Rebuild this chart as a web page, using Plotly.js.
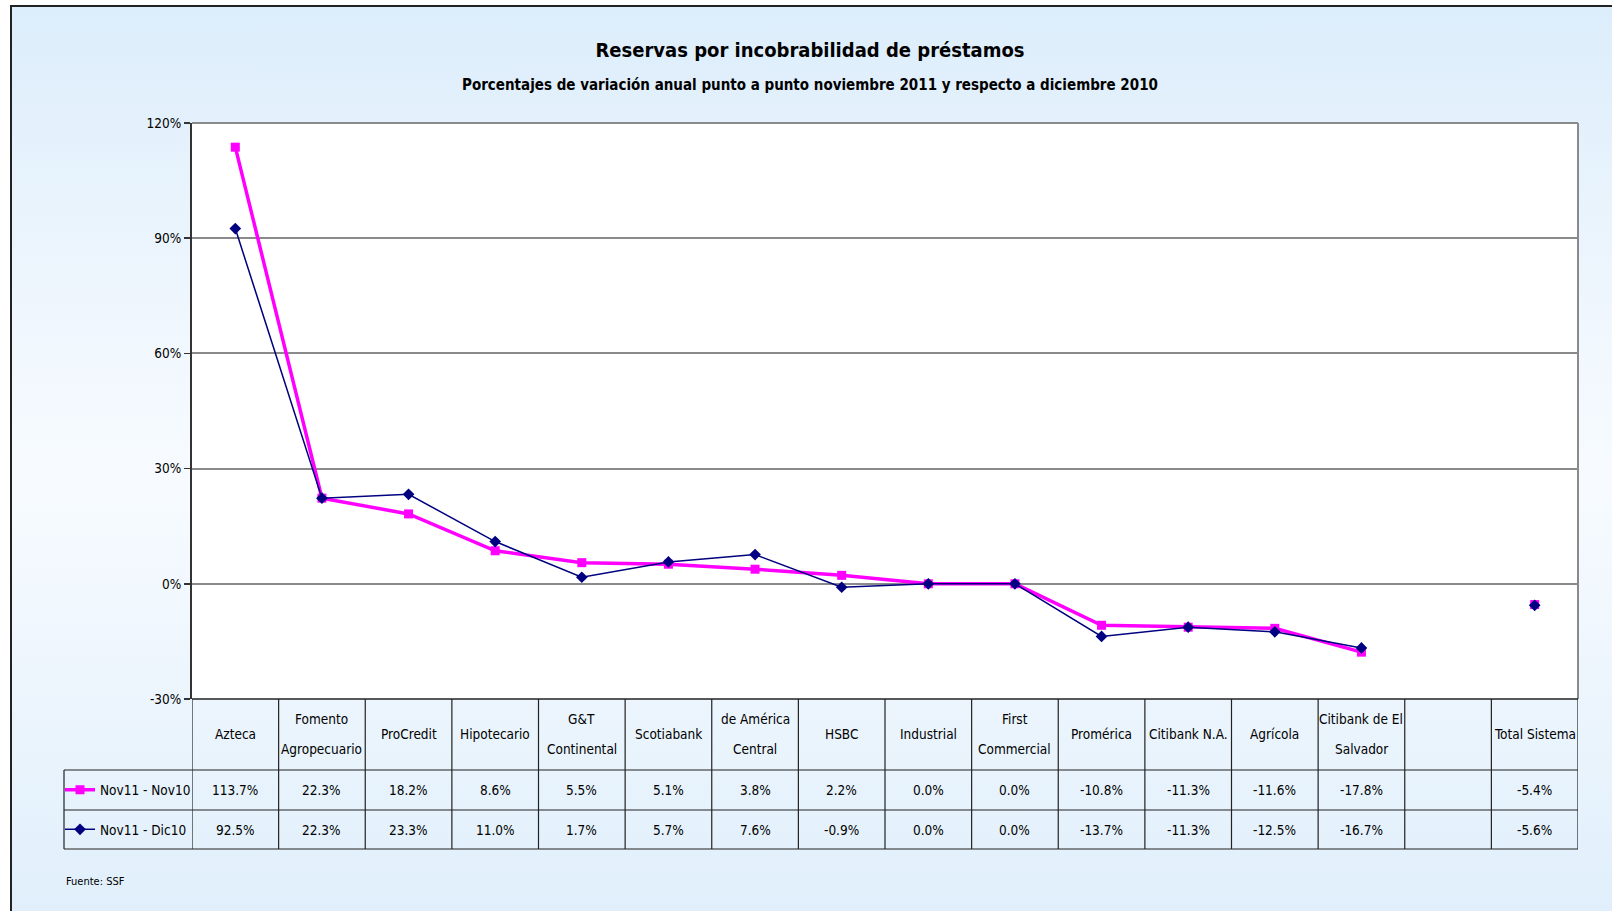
<!DOCTYPE html>
<html>
<head>
<meta charset="utf-8">
<script src="https://cdn.plot.ly/plotly-3.0.1.min.js"></script>
<style>
  html, body { margin: 0; padding: 0; background: #ffffff; overflow: hidden; }
  #frame {
    position: absolute; left: 10px; top: 5px; width: 1640px; height: 940px;
    border-left: 2px solid #222; border-top: 2px solid #222;
    background: linear-gradient(to bottom, #dcedfb 0%, #eef6fd 30%, #f7fbff 50%, #eef6fd 70%, #deeefb 100%);
  }
  #chart { position: absolute; left: 0; top: 0; width: 1612px; height: 911px; }
</style>
</head>
<body>
<div id="frame"></div>
<div id="chart"></div>
<script>
// ---- data ----
const categories = [
  'Azteca', 'Fomento\nAgropecuario', 'ProCredit', 'Hipotecario', 'G&T\nContinental',
  'Scotiabank', 'de América\nCentral', 'HSBC', 'Industrial', 'First\nCommercial',
  'Promérica', 'Citibank N.A.', 'Agrícola', 'Citibank de El\nSalvador', '', 'Total Sistema'
];
const seriesNames = ['Nov11 - Nov10', 'Nov11 - Dic10'];
const nov11Nov10 = [113.7, 22.3, 18.2, 8.6, 5.5, 5.1, 3.8, 2.2, 0.0, 0.0, -10.8, -11.3, -11.6, -17.8, null, -5.4];
const nov11Dic10 = [92.5, 22.3, 23.3, 11.0, 1.7, 5.7, 7.6, -0.9, 0.0, 0.0, -13.7, -11.3, -12.5, -16.7, null, -5.6];
const yTickVals = [-30, 0, 30, 60, 90, 120];
const yTickText = ['-30%', '0%', '30%', '60%', '90%', '120%'];
const titleText = 'Reservas por incobrabilidad de préstamos';
const subtitleText = 'Porcentajes de variación anual punto a punto noviembre 2011 y respecto a diciembre 2010';
const sourceText = 'Fuente: SSF';

// ---- layout constants (pixels) ----
const W = 1612, H = 911;
const L = 192, R = 34, T = 123, B = 212;
const plotW = W - L - R, plotH = H - T - B;
const FONT = '"Liberation Sans Narrow", "Arial Narrow", "DejaVu Sans Condensed", sans-serif';
const tableTop = 699, row1Top = 770, row2Top = 810, tableBottom = 849, legendLeft = 64;
const py = px => (H - B - px) / plotH;       // pixel y -> paper y
const pxX = px => (px - L) / plotW;          // pixel x -> paper x
const esc = s => s.replace(/&/g, '&amp;');
const fmt = v => (v === null ? '' : v.toFixed(1) + '%');

const idx = categories.map((_, i) => i);
const n = categories.length;

const traces = [
  {
    x: idx, y: nov11Nov10, name: seriesNames[0], type: 'scatter', mode: 'lines+markers',
    line: { color: '#FF00FF', width: 3.5 },
    marker: { symbol: 'square', size: 9, color: '#FF00FF' },
    connectgaps: false, legend: 'legend', hoverinfo: 'x+y'
  },
  {
    x: idx, y: nov11Dic10, name: seriesNames[1], type: 'scatter', mode: 'lines+markers',
    line: { color: '#000080', width: 1.5 },
    marker: { symbol: 'diamond', size: 9, color: '#000080' },
    connectgaps: false, legend: 'legend2', hoverinfo: 'x+y'
  }
];

const shapes = [];
const lineCol = '#222222';
shapes.push({ type: 'line', xref: 'paper', yref: 'paper', x0: 0, x1: 1, y0: 1, y1: 1, line: { color: '#8a8a8a', width: 2 } });
shapes.push({ type: 'line', xref: 'paper', yref: 'paper', x0: 1, x1: 1, y0: 0, y1: 1, line: { color: '#8a8a8a', width: 2 } });
shapes.push({ type: 'line', xref: 'paper', yref: 'paper', x0: 0, x1: 1, y0: py(tableTop), y1: py(tableTop), line: { color: lineCol, width: 1.5 } });
[row1Top, row2Top, tableBottom].forEach(yy => {
  shapes.push({ type: 'line', xref: 'paper', yref: 'paper', x0: pxX(legendLeft), x1: 1, y0: py(yy), y1: py(yy), line: { color: lineCol, width: 1.2 } });
});
shapes.push({ type: 'line', xref: 'paper', yref: 'paper', x0: pxX(legendLeft), x1: pxX(legendLeft), y0: py(row1Top), y1: py(tableBottom), line: { color: lineCol, width: 1.2 } });
for (let k = 0; k <= n; k++) {
  shapes.push({ type: 'line', xref: 'x', yref: 'paper', x0: k - 0.5, x1: k - 0.5, y0: py(tableTop), y1: py(tableBottom), line: { color: lineCol, width: 1.2 } });
}

const annotations = [];
const cellFont = { family: FONT, size: 13.5, color: '#000' };
categories.forEach((c, i) => {
  const parts = c.split('\n').filter(s => s.length);
  const center = (tableTop + row1Top) / 2 - 1;
  const spacing = 30;
  parts.forEach((p, j) => {
    const yy = center + (j - (parts.length - 1) / 2) * spacing;
    annotations.push({ x: i, y: py(yy), xref: 'x', yref: 'paper', text: esc(p), showarrow: false, font: cellFont, xanchor: 'center', yanchor: 'middle' });
  });
});
[nov11Nov10, nov11Dic10].forEach((arr, r) => {
  const center = r === 0 ? (row1Top + row2Top) / 2 : (row2Top + tableBottom) / 2;
  arr.forEach((v, i) => {
    if (v === null) return;
    annotations.push({ x: i, y: py(center), xref: 'x', yref: 'paper', text: fmt(v), showarrow: false, font: cellFont, xanchor: 'center', yanchor: 'middle' });
  });
});
annotations.push({ x: pxX(810), y: py(85), xref: 'paper', yref: 'paper', text: '<b>' + subtitleText + '</b>', showarrow: false,
  font: { family: FONT, size: 15, color: '#000' }, xanchor: 'center', yanchor: 'middle' });
annotations.push({ x: pxX(64), y: py(881), xref: 'paper', yref: 'paper', text: sourceText, showarrow: false,
  font: { family: FONT, size: 11, color: '#000' }, xanchor: 'left', yanchor: 'middle' });

const layout = {
  width: W, height: H,
  margin: { l: L, r: R, t: T, b: B },
  paper_bgcolor: 'rgba(0,0,0,0)',
  plot_bgcolor: '#ffffff',
  font: { family: FONT, size: 13.5, color: '#000' },
  title: {
    text: '<b>' + titleText + '</b>',
    font: { family: FONT, size: 20, color: '#000' },
    x: 810 / W, xref: 'container', xanchor: 'center',
    y: 1 - 50 / H, yref: 'container', yanchor: 'middle'
  },
  xaxis: {
    range: [-0.5, n - 0.5], showticklabels: false, showgrid: false, zeroline: false,
    showline: false, ticks: '', fixedrange: true
  },
  yaxis: {
    range: [-30, 120], tickmode: 'array', tickvals: yTickVals, ticktext: yTickText,
    showgrid: true, gridcolor: '#8a8a8a', gridwidth: 2, zeroline: false,
    showline: true, linecolor: '#333', linewidth: 2,
    ticks: 'outside', ticklen: 6, tickcolor: '#333', tickwidth: 1.5,
    tickfont: { family: FONT, size: 13.5, color: '#000' }, fixedrange: true
  },
  showlegend: true,
  legend: {
    x: pxX(60), xanchor: 'left', y: py((row1Top + row2Top) / 2), yanchor: 'middle',
    bgcolor: 'rgba(0,0,0,0)', font: { family: FONT, size: 13.5, color: '#000' }, itemwidth: 30
  },
  legend2: {
    x: pxX(60), xanchor: 'left', y: py((row2Top + tableBottom) / 2), yanchor: 'middle',
    bgcolor: 'rgba(0,0,0,0)', font: { family: FONT, size: 13.5, color: '#000' }, itemwidth: 30
  },
  shapes: shapes,
  annotations: annotations
};

Plotly.newPlot('chart', traces, layout, { displayModeBar: false, staticPlot: true });
</script>
</body>
</html>
